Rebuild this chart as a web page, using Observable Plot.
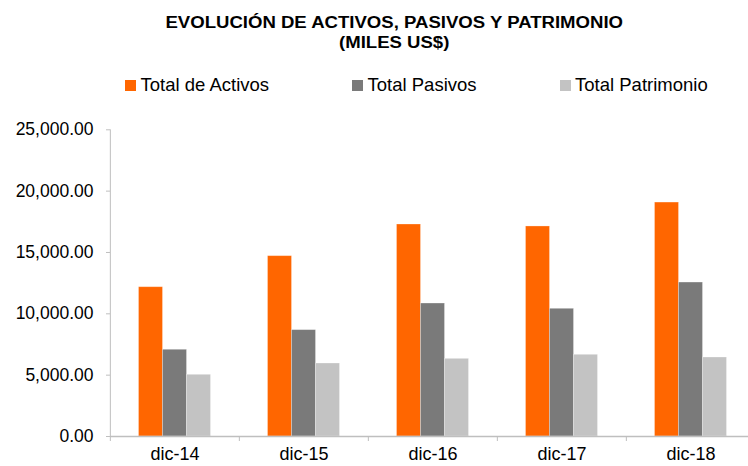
<!DOCTYPE html>
<html>
<head>
<meta charset="utf-8">
<script src="https://cdn.jsdelivr.net/npm/d3@7"></script>
<script src="https://cdn.jsdelivr.net/npm/@observablehq/plot@0.6"></script>
<style>
  html, body { margin: 0; padding: 0; background: #fff; }
  body { width: 748px; height: 466px; overflow: hidden; position: relative;
         font-family: "Liberation Sans", Arial, sans-serif; color: #000; }
  #title { position: absolute; left: 20px; top: 13px; width: 748px; text-align: center; }
  #title span { display: inline-block; transform: scaleX(1.16); font-weight: bold;
                font-size: 16px; line-height: 19.5px; color: #000; }
  #legend { position: absolute; left: 125px; top: 74px; width: 700px; white-space: nowrap; }
  #legend .lg-swatches { font-size: 18.5px !important; font-family: "Liberation Sans", Arial, sans-serif !important;
                         margin: 0 !important; min-height: 0 !important; color: #000;
                         flex-wrap: nowrap !important; }
  #legend .lg-swatch { margin-right: 83px !important; white-space: nowrap; }
  #legend .lg-swatch > svg { margin-right: 4.5px !important; }
  #chart { position: absolute; left: 0; top: 100px; }
</style>
</head>
<body>
<div id="title"><span>EVOLUCIÓN DE ACTIVOS, PASIVOS Y PATRIMONIO<br>(MILES US$)</span></div>
<div id="legend"></div>
<div id="chart"></div>
<script>
const years = ["dic-14", "dic-15", "dic-16", "dic-17", "dic-18"];
const series = ["Total de Activos", "Total Pasivos", "Total Patrimonio"];
const activos = [12170, 14700, 17280, 17120, 19070];
const pasivos = [7070, 8670, 10840, 10410, 12550];
const patrimonio = [5030, 5950, 6330, 6660, 6440];
const colors = ["#FF6600", "#7A7A7A", "#C3C3C3"];
const yTicks = [0, 5000, 10000, 15000, 20000, 25000];

const valuesBySeries = [activos, pasivos, patrimonio];
const data = years.flatMap((yr, i) =>
  valuesBySeries.map((arr, j) => ({year: yr, series: series[j], value: arr[i]}))
);

const W = 748, H = 366, ML = 109.5, MR = -8, MT = 29.3, MB = 30;
const bw = (W - ML - MR) / years.length;

const chart = Plot.plot({
  width: W, height: H,
  marginLeft: ML, marginRight: MR, marginTop: MT, marginBottom: MB,
  style: {fontFamily: "Liberation Sans, Arial, sans-serif", fontSize: "18px", color: "#000", background: "transparent"},
  fx: {domain: years, padding: 0, label: null},
  x: {domain: series, paddingInner: 0, paddingOuter: 1.09, axis: null},
  y: {domain: [0, 25000]},
  color: {domain: series, range: colors},
  marks: [
    Plot.barY(data, {fx: "year", x: "series", y: "value", fill: "series",
                     stroke: "#ffffff", strokeOpacity: 0.35, strokeWidth: 0.8}),
    Plot.ruleY([0], {stroke: "#bfbfbf", strokeWidth: 1.3}),
    Plot.gridFx({ticks: [years[0]], dx: -bw / 2, stroke: "#bfbfbf", strokeOpacity: 1, strokeWidth: 1}),
    Plot.axisFx({anchor: "bottom", tickSize: 5, dx: -bw / 2, tickFormat: () => "", stroke: "#bfbfbf", label: null}),
    Plot.axisFx({anchor: "bottom", tickSize: 0, tickPadding: 11, fontSize: 18, label: null, fill: "#000"}),
    Plot.axisY({ticks: yTicks, tickFormat: d3.format(",.2f"), tickSize: 4, tickPadding: 13,
                stroke: "#bfbfbf", fill: "#000", fontSize: 17.5, label: null})
  ]
});
document.getElementById("chart").appendChild(chart);

const legend = Plot.legend({
  color: {domain: series, range: colors},
  legend: "swatches",
  swatchSize: 11,
  className: "lg"
});
document.getElementById("legend").appendChild(legend);
</script>
</body>
</html>
